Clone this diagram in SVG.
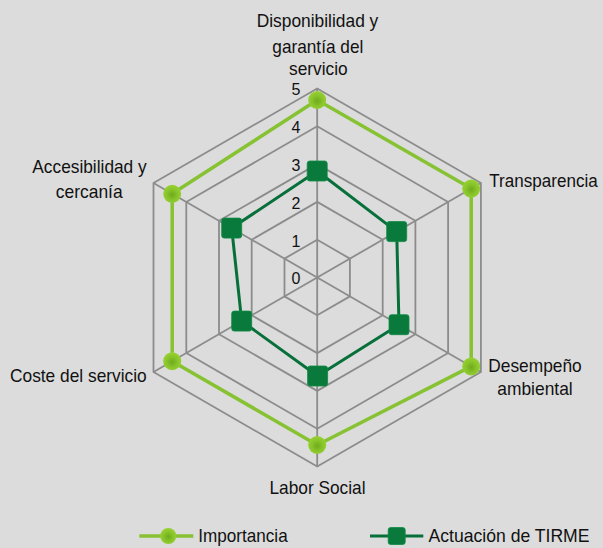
<svg xmlns="http://www.w3.org/2000/svg" width="603" height="548" viewBox="0 0 603 548">
<defs>
<style>
.lbl{font-family:"Liberation Sans",Arial,sans-serif;font-size:19px;fill:#111;}
.num{font-family:"Liberation Sans",Arial,sans-serif;font-size:16px;fill:#111;text-anchor:middle;}
.grid{fill:none;stroke:#8c8c8c;stroke-width:1.8;stroke-linejoin:miter;}
.imp{fill:none;stroke:#86c232;stroke-width:3.5;stroke-linejoin:round;}
.tir{fill:none;stroke:#07703a;stroke-width:3;stroke-linejoin:round;}
.dot{fill:url(#gl);}
.sq{fill:#0a7a3c;stroke:#0c8a44;stroke-width:0.8;}
</style>
<radialGradient id="gl" cx="0.5" cy="0.55" r="0.55">
<stop offset="0" stop-color="#6faa1c"/>
<stop offset="0.55" stop-color="#88c42a"/>
<stop offset="1" stop-color="#98d233"/>
</radialGradient>
</defs>
<rect width="603" height="548" fill="#dcdcdc"/>
<g id="grid">
<polygon class="grid" points="317.2,239.7 349.9,258.6 349.9,296.4 317.2,315.3 284.5,296.4 284.5,258.6"/>
<polygon class="grid" points="317.2,201.9 382.7,239.7 382.7,315.3 317.2,353.1 251.7,315.3 251.7,239.7"/>
<polygon class="grid" points="317.2,164.1 415.4,220.8 415.4,334.2 317.2,390.9 219,334.2 219,220.8"/>
<polygon class="grid" points="317.2,126.3 448.1,201.9 448.1,353.1 317.2,428.7 186.3,353.1 186.3,201.9"/>
<polygon class="grid" points="317.2,88.5 480.9,183 480.9,372 317.2,466.5 153.5,372 153.5,183"/>
<path class="grid" d="M317.2,277.5V88.5M317.2,277.5L480.9,183M317.2,277.5L480.9,372M317.2,277.5V466.5M317.2,277.5L153.5,372M317.2,277.5L153.5,183"/>
</g>
<g id="scale">
<text class="num" x="296" y="95">5</text>
<text class="num" x="296" y="133">4</text>
<text class="num" x="296" y="171">3</text>
<text class="num" x="296" y="209">2</text>
<text class="num" x="296" y="246.5">1</text>
<text class="num" x="296" y="284">0</text>
</g>
<g id="series-importancia">
<polygon class="imp" points="317.2,100 471.2,188.6 471.2,366.4 317.2,445 172.2,361.2 172.2,193.8"/>
<circle class="dot" cx="317.2" cy="100" r="9"/>
<circle class="dot" cx="471.2" cy="188.6" r="9"/>
<circle class="dot" cx="471.2" cy="366.4" r="9"/>
<circle class="dot" cx="317.2" cy="445" r="9"/>
<circle class="dot" cx="172.2" cy="361.2" r="9"/>
<circle class="dot" cx="172.2" cy="193.8" r="9"/>
</g>
<g id="series-tirme">
<polygon class="tir" points="317.2,171 396.7,231.6 399,324.7 317.6,376 241.7,321.1 231.7,228.1"/>
<rect class="sq" x="307.2" y="161" width="20" height="20" rx="2.5"/>
<rect class="sq" x="386.7" y="221.6" width="20" height="20" rx="2.5"/>
<rect class="sq" x="389" y="314.7" width="20" height="20" rx="2.5"/>
<rect class="sq" x="307.6" y="366" width="20" height="20" rx="2.5"/>
<rect class="sq" x="231.7" y="311.1" width="20" height="20" rx="2.5"/>
<rect class="sq" x="221.7" y="218.1" width="20" height="20" rx="2.5"/>
</g>
<g id="axis-disponibilidad">
<text class="lbl" x="256.7" y="27.3" textLength="121.6" lengthAdjust="spacingAndGlyphs">Disponibilidad y</text>
<text class="lbl" x="272.3" y="52.5" textLength="91" lengthAdjust="spacingAndGlyphs">garantía del</text>
<text class="lbl" x="289" y="75" textLength="58.7" lengthAdjust="spacingAndGlyphs">servicio</text>
</g>
<g id="axis-transparencia">
<text class="lbl" x="489.3" y="186.7" style="font-size:17.5px" textLength="108.4" lengthAdjust="spacingAndGlyphs">Transparencia</text>
</g>
<g id="axis-desempeno">
<text class="lbl" x="488.3" y="371.7" textLength="93.4" lengthAdjust="spacingAndGlyphs">Desempeño</text>
<text class="lbl" x="497.3" y="395" textLength="75.4" lengthAdjust="spacingAndGlyphs">ambiental</text>
</g>
<g id="axis-labor">
<text class="lbl" x="269.5" y="494" textLength="96" lengthAdjust="spacingAndGlyphs">Labor Social</text>
</g>
<g id="axis-coste">
<text class="lbl" x="10" y="382.3" textLength="136.7" lengthAdjust="spacingAndGlyphs">Coste del servicio</text>
</g>
<g id="axis-accesibilidad">
<text class="lbl" x="32.3" y="173.3" textLength="114.4" lengthAdjust="spacingAndGlyphs">Accesibilidad y</text>
<text class="lbl" x="55.7" y="197.7" textLength="67" lengthAdjust="spacingAndGlyphs">cercanía</text>
</g>
<g id="legend">
<line x1="139.3" y1="536" x2="193.3" y2="536" stroke="#86c232" stroke-width="3.5"/>
<circle class="dot" cx="168.3" cy="536" r="8"/>
<text class="lbl" x="198.3" y="541.7" textLength="89.4" lengthAdjust="spacingAndGlyphs">Importancia</text>
<line x1="370" y1="536" x2="423.3" y2="536" stroke="#07703a" stroke-width="3"/>
<rect class="sq" x="388.2" y="527.5" width="17" height="17" rx="2.5"/>
<text class="lbl" x="428.5" y="541.7" textLength="161" lengthAdjust="spacingAndGlyphs">Actuación de TIRME</text>
</g>
</svg>
